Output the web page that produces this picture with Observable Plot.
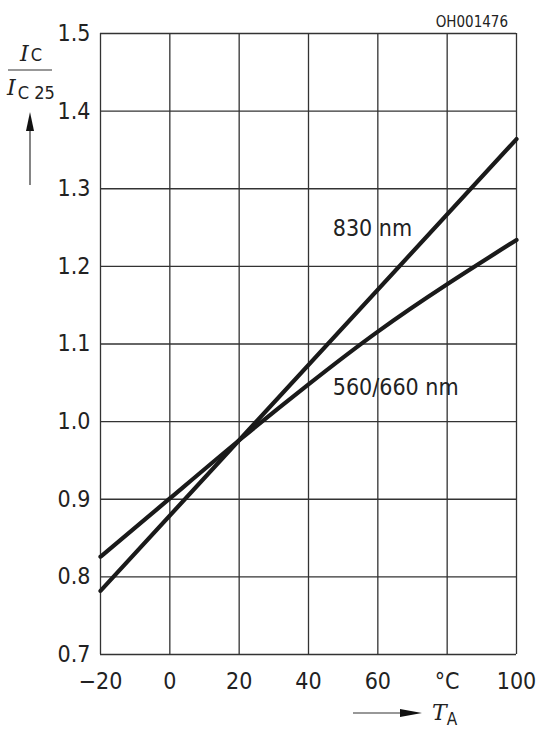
<!DOCTYPE html>
<html><head>
<meta charset="utf-8">
<script src="https://cdn.jsdelivr.net/npm/d3@7"></script>
<script src="https://cdn.jsdelivr.net/npm/@observablehq/plot@0.6"></script>
<style>body{margin:0;background:#fff}</style>
</head><body><div id="chart"></div>
<script>
const temps830 = [-20, 100];
const series830 = [0.782, 1.364];
const temps560 = [-20, 0, 20, 40, 60, 80, 100];
const series560 = [0.826, 0.901, 0.976, 1.048, 1.116, 1.177, 1.234];
const seriesNames = ["830 nm", "560/660 nm"];
const labelX = [47, 47];
const labelY = [1.248, 1.044];
const xTicks = [-20, 0, 20, 40, 60, 80, 100];
const xTickLabels = ["−20", "0", "20", "40", "60", "°C", "100"];
const yTicks = [0.7, 0.8, 0.9, 1.0, 1.1, 1.2, 1.3, 1.4, 1.5];
const yTickLabels = ["0.7", "0.8", "0.9", "1.0", "1.1", "1.2", "1.3", "1.4", "1.5"];

const rows830 = temps830.map((t, i) => ({t, v: series830[i]}));
const rows560 = temps560.map((t, i) => ({t, v: series560[i]}));
const labelRows = seriesNames.map((s, i) => ({text: s, x: labelX[i], y: labelY[i]}));

const FONT = "'DejaVu Sans Condensed', 'DejaVu Sans', sans-serif";

const chart = Plot.plot({
  width: 537, height: 729,
  marginLeft: 100, marginRight: 21, marginTop: 33, marginBottom: 75,
  style: {fontFamily: FONT, fontSize: "23px", color: "#222", background: "#fff"},
  x: {domain: [-20, 100]},
  y: {domain: [0.7, 1.5]},
  marks: [
    Plot.ruleX(xTicks, {x: d => d, stroke: "#333", strokeWidth: 1.3}),
    Plot.ruleY(yTicks, {y: d => d, stroke: "#333", strokeWidth: 1.3}),
    Plot.axisX({ticks: xTicks, tickSize: 0, tickPadding: 18, label: null,
      tickFormat: d => xTickLabels[xTicks.indexOf(d)], fill: "#222"}),
    Plot.axisY({ticks: yTicks, tickSize: 0, tickPadding: 10, label: null,
      tickFormat: d => yTickLabels[yTicks.findIndex(v => Math.abs(v - d) < 1e-9)], fill: "#222"}),
    Plot.line(rows830, {x: "t", y: "v", stroke: "#1a1a1a", strokeWidth: 4.2}),
    Plot.line(rows560, {x: "t", y: "v", stroke: "#1a1a1a", strokeWidth: 4.2, curve: "natural"}),
    Plot.text(labelRows, {x: "x", y: "y", text: "text", textAnchor: "start", fill: "#222", fontSize: 23})
  ]
});
document.getElementById("chart").appendChild(chart);

const svg = d3.select(chart);
// reference code
svg.append("text").attr("x", 508).attr("y", 27).attr("text-anchor", "end")
  .attr("font-size", 15).attr("font-family", FONT).attr("fill", "#222").text("OH001476");

// y-axis title (fraction)
const yt = svg.append("g").attr("font-family", FONT).attr("fill", "#222").attr("text-anchor", "start");
const num = yt.append("text").attr("x", 20).attr("y", 61).attr("font-size", 22).attr("text-anchor", "start");
num.append("tspan").attr("font-family", "'DejaVu Serif', serif").attr("font-style", "italic").text("I");
num.append("tspan").attr("font-size", 18).attr("dx", 2).text("C");
yt.append("line").attr("x1", 8).attr("x2", 52).attr("y1", 70).attr("y2", 70).attr("stroke", "#333").attr("stroke-width", 1.2);
const den = yt.append("text").attr("x", 7).attr("y", 95).attr("font-size", 22).attr("text-anchor", "start");
den.append("tspan").attr("font-family", "'DejaVu Serif', serif").attr("font-style", "italic").text("I");
den.append("tspan").attr("font-size", 18).attr("dx", 2).attr("dy", 4).text("C 25");
// up arrow
yt.append("line").attr("x1", 30).attr("x2", 30).attr("y1", 185).attr("y2", 125).attr("stroke", "#333").attr("stroke-width", 1.2);
yt.append("path").attr("d", "M30,112 L34,131 L26,131 Z").attr("fill", "#111");

// x-axis title
const xt = svg.append("g").attr("font-family", FONT).attr("fill", "#222").attr("text-anchor", "start");
xt.append("line").attr("x1", 353).attr("x2", 405).attr("y1", 713).attr("y2", 713).attr("stroke", "#333").attr("stroke-width", 1.2);
xt.append("path").attr("d", "M422,713 L400,709 L400,717 Z").attr("fill", "#111");
const ta = xt.append("text").attr("x", 432).attr("y", 720).attr("font-size", 22).attr("text-anchor", "start");
ta.append("tspan").attr("font-family", "'DejaVu Serif', serif").attr("font-style", "italic").text("T");
ta.append("tspan").attr("font-size", 17).attr("dy", 5).text("A");
</script>
</body></html>
